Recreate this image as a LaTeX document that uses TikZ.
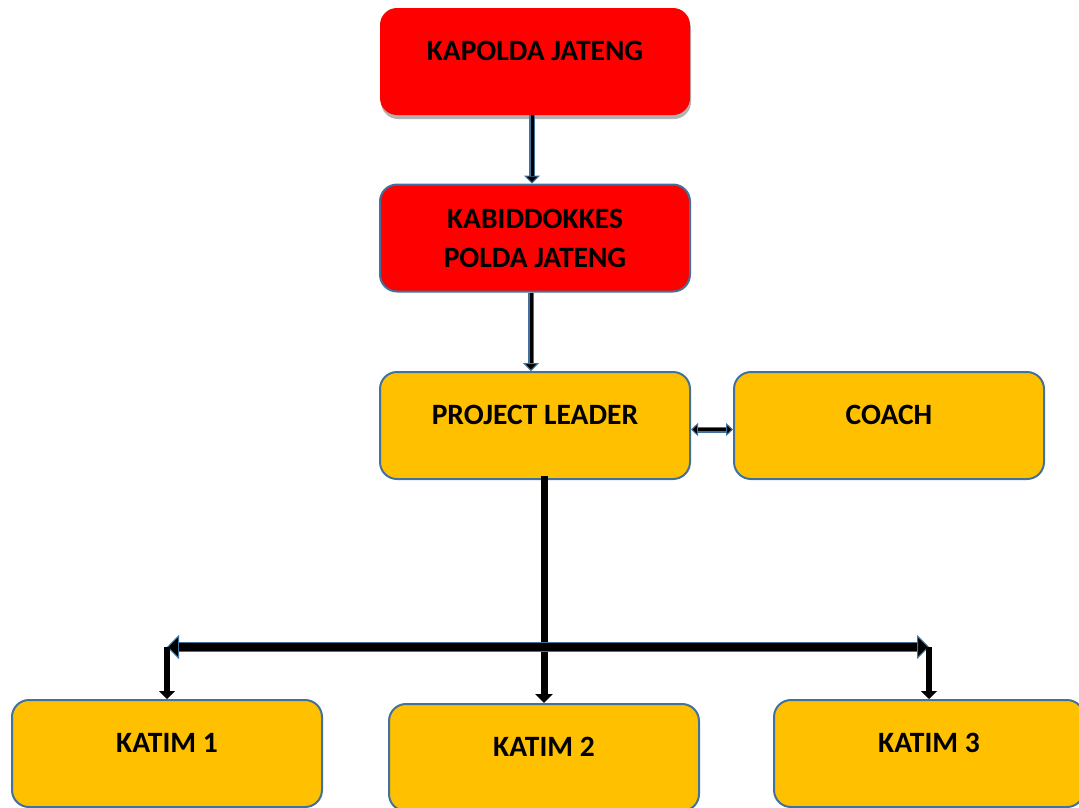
\documentclass[tikz,border=0pt]{standalone}
\usepackage{fontspec}
\setmainfont{Carlito}
\usetikzlibrary{arrows.meta,shadows}
\definecolor{boxred}{HTML}{FF0000}
\definecolor{boxgold}{HTML}{FFC000}
\definecolor{edgeblue}{HTML}{41719C}

\begin{document}
\begin{tikzpicture}[x=1pt,y=-1pt,
  box/.style={rounded corners=17pt, minimum width=310pt, minimum height=107pt,
    inner sep=0pt, align=center, font=\fontsize{29.5}{35}\selectfont\bfseries},
  redbox/.style={box, fill=boxred},
  goldbox/.style={box, fill=boxgold, draw=edgeblue, line width=2pt},
  raised/.style={text height=19pt, text depth=21pt},
  thinlink/.style={draw=edgeblue, line width=6pt,
    -{Triangle[width=16pt,length=8pt,fill=black,line width=1pt]},
    postaction={draw=black, line width=3pt, arrows=-, shorten >=8pt}},
  sidelink/.style={draw=edgeblue, line width=6pt,
    {Triangle[width=13pt,length=7pt,fill=black,line width=1pt]}-{Triangle[width=13pt,length=7pt,fill=black,line width=1pt]},
    postaction={draw=black, line width=3pt, arrows=-, shorten >=7pt, shorten <=7pt}},
  bus/.style={draw=edgeblue, line width=10pt,
    {Triangle[width=24pt,length=12pt,fill=black,line width=1pt]}-{Triangle[width=24pt,length=12pt,fill=black,line width=1pt]},
    postaction={draw=black, line width=8pt, arrows=-, shorten >=12pt, shorten <=12pt}},
  trunk/.style={draw=black, line width=7pt, -{Triangle[width=17pt,length=9pt]}},
  drop/.style={draw=black, line width=5.5pt, -{Triangle[width=16pt,length=8pt]}}]

\useasboundingbox (0,0) rectangle (1079,807);
\clip (0,0) rectangle (1079,807);

% chain of command
\node[redbox, raised, drop shadow={shadow xshift=1pt, shadow yshift=-4pt, fill=black, opacity=0.3}]
  (kapolda) at (535,61.5) {KAPOLDA JATENG};
\node[redbox, draw=edgeblue, line width=2pt, font=\fontsize{29.5}{39}\selectfont\bfseries]
  (kabid) at (535,238) {KABIDDOKKES\\POLDA JATENG};
\node[goldbox, raised] (pl) at (535,425.5) {PROJECT LEADER};
\node[goldbox, raised] (coach) at (889,425.5) {COACH};

% teams
\node[goldbox, raised] (k1) at (167,753.5) {KATIM 1};
\node[goldbox, raised] (k2) at (544,757.5) {KATIM 2};
\node[goldbox, raised] (k3) at (929,753.5) {KATIM 3};

\path (k1.north) ++(0,-52) coordinate (busL);
\path (k3.north) ++(0,-52) coordinate (busR);

\draw[thinlink] ([xshift=-3pt]kapolda.south) -- ([xshift=-3pt]kabid.north);
\draw[thinlink] ([xshift=-4pt]kabid.south) -- ([xshift=-4pt]pl.north);
\draw[sidelink] ([yshift=-4pt]pl.east) -- ([yshift=-4pt]coach.west);

\draw[trunk] ([yshift=4pt]k2.north |- pl.south) -- (k2.north);
\draw[bus] (busL) -- (busR);
\draw[drop] (busL) -- (k1.north);
\draw[drop] (busR) -- (k3.north);
\end{tikzpicture}
\end{document}
